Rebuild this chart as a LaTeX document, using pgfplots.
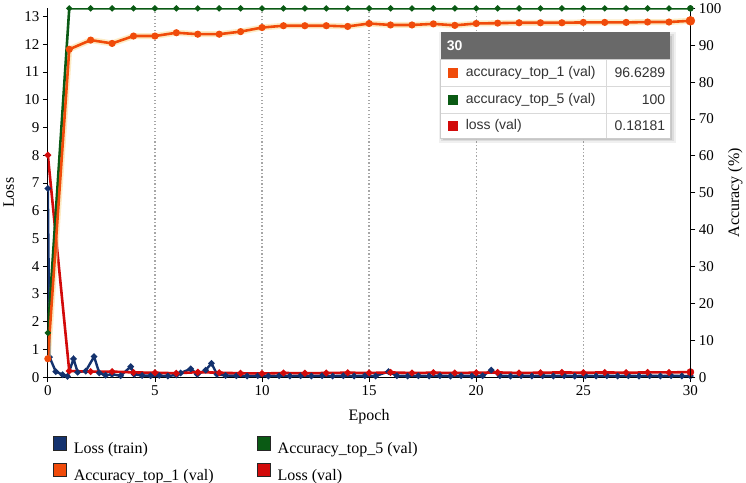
\documentclass[border=0pt]{standalone}
\usepackage{fontspec}
\setmainfont{Liberation Serif}
\newfontfamily\tipfont{Liberation Sans}
\usepackage{pgfplots}
\pgfplotsset{compat=1.18}

\definecolor{navyc}{RGB}{20,50,110}
\definecolor{greenc}{RGB}{10,90,20}
\definecolor{orangec}{RGB}{240,75,10}
\definecolor{redc}{RGB}{210,10,10}
\definecolor{haloc}{RGB}{250,215,140}
\definecolor{headc}{RGB}{105,105,105}

\pgfplotstableread{
x y
0 6.8
0.08 0.72
0.37 0.2
0.69 0.09
0.92 0.03
1.2 0.66
1.39 0.18
1.77 0.22
2.16 0.74
2.4 0.15
2.7 0.07
3.0 0.1
3.4 0.05
3.87 0.38
4.03 0.1
4.4 0.06
4.8 0.05
5.2 0.06
5.6 0.04
6.0 0.08
6.2 0.15
6.67 0.3
6.98 0.1
7.37 0.25
7.64 0.5
7.9 0.1
8.3 0.06
8.8 0.05
9.3 0.04
9.8 0.05
10.3 0.04
10.8 0.05
11.3 0.04
11.8 0.05
12.3 0.04
12.8 0.05
13.3 0.04
13.8 0.05
14.3 0.04
14.8 0.05
15.3 0.04
15.9 0.2
16.3 0.05
16.8 0.04
17.3 0.05
17.8 0.04
18.3 0.05
18.8 0.04
19.3 0.05
19.8 0.04
20.3 0.05
20.7 0.25
21.1 0.05
21.6 0.04
22.1 0.05
22.6 0.04
23.1 0.05
23.6 0.04
24.1 0.05
24.6 0.04
25.1 0.05
25.6 0.04
26.1 0.05
26.6 0.04
27.1 0.05
27.6 0.04
28.1 0.05
28.6 0.04
29.1 0.05
29.6 0.04
30 0.04
}\losstrain

\pgfplotstableread{
x y
0 8.0
1 0.22
2 0.2
3 0.2
4 0.17
5 0.16
6 0.14
7 0.18
8 0.16
9 0.14
10 0.13
11 0.15
12 0.14
13 0.15
14 0.16
15 0.15
16 0.17
17 0.15
18 0.16
19 0.15
20 0.16
21 0.17
22 0.15
23 0.16
24 0.17
25 0.16
26 0.17
27 0.16
28 0.17
29 0.17
30 0.18181
}\lossval

\pgfplotstableread{
x y
0 5
1 88.9
2 91.4
3 90.5
4 92.5
5 92.5
6 93.4
7 93.0
8 93.0
9 93.7
10 94.8
11 95.3
12 95.3
13 95.3
14 95.1
15 95.9
16 95.5
17 95.5
18 95.8
19 95.4
20 95.9
21 96.0
22 96.1
23 96.1
24 96.1
25 96.2
26 96.2
27 96.2
28 96.3
29 96.3
30 96.6289
}\accone

\pgfplotstableread{
x y
0 12
1 100
2 100
3 100
4 100
5 100
6 100
7 100
8 100
9 100
10 100
11 100
12 100
13 100
14 100
15 100
16 100
17 100
18 100
19 100
20 100
21 100
22 100
23 100
24 100
25 100
26 100
27 100
28 100
29 100
30 100
}\accfive

\begin{document}
\begin{tikzpicture}
\pgfplotsset{
  every axis/.append style={
    scale only axis, width=643pt, height=369pt,
    xmin=0, xmax=30,
    tick align=outside, major tick length=5pt,
    tick style={black, line width=0.8pt},
    axis line style={black, line width=0.9pt},
    tick label style={font=\fontsize{15}{18}\selectfont},
    label style={font=\fontsize{16}{19}\selectfont},
    /pgf/number format/assume math mode=true,
  }
}
\begin{axis}[
  name=main,
  ymin=0, ymax=13.29,
  axis x line*=bottom, axis y line*=left,
  xtick={0,5,...,30}, ytick={0,1,...,13},
  xmajorgrids,
  major grid style={gray!70, line width=1.3pt, dash pattern=on 1.3pt off 2.2pt},
  xlabel={Epoch}, ylabel={Loss},
  xlabel style={at={(axis description cs:0.5,-0.108)}, anchor=center},
  ylabel style={at={(axis description cs:-0.061,0.5)}, anchor=center},
]
\addplot[navyc, line width=2.4pt, mark=*, mark size=1.8pt] table {\losstrain};
\addplot[redc, line width=2.6pt, mark=*, mark size=1.8pt] table {\lossval};
\addplot[redc, only marks, mark=*, mark size=3.6pt] coordinates {(30,0.18181)};
\end{axis}

\begin{axis}[
  ymin=0, ymax=100,
  axis x line=none, axis y line*=right,
  ytick={0,10,...,100},
  ylabel={Accuracy (\%)},
  ylabel style={at={(axis description cs:1.070,0.5)}, anchor=center},
  legend columns=2,
  legend cell align=left,
  legend style={at={(axis description cs:0.0073,-0.16)}, anchor=north west,
    draw=none, fill=none, inner sep=0pt, row sep=7pt,
    font=\fontsize{16}{19}\selectfont,
    nodes={inner sep=1pt},
    /tikz/every odd column/.append style={column sep=6pt},
    /tikz/every even column/.append style={column sep=42pt}},
  legend image code/.code={\draw[#1, draw=black!85, line width=0.6pt] (0pt,-1.5pt) rectangle (13.5pt,12pt);},
]
\addplot[haloc, opacity=0.5, line width=6pt, forget plot] table {\accone};
\addplot[greenc, line width=2.6pt, mark=*, mark size=1.5pt, forget plot] table {\accfive};
\addplot[orangec, line width=2.6pt, mark=*, mark size=2.2pt, forget plot] table {\accone};
\addplot[orangec, only marks, mark=*, mark size=4.5pt, forget plot] coordinates {(30,96.6289)};
\addplot[greenc, only marks, mark=*, mark size=3pt, forget plot] coordinates {(30,100)};
\addlegendimage{fill=navyc}\addlegendentry{Loss (train)}
\addlegendimage{fill=greenc}\addlegendentry{Accuracy\_top\_5 (val)}
\addlegendimage{fill=orangec}\addlegendentry{Accuracy\_top\_1 (val)}
\addlegendimage{fill=redc}\addlegendentry{Loss (val)}
\end{axis}

% hover tooltip for epoch 30
\begin{scope}[shift={(main.south west)}, x=1pt, y=1pt]
\fill[black, opacity=0.06] (391,234) rectangle (629,345);
\fill[black, opacity=0.08] (393,236) rectangle (627,343);
\fill[black, opacity=0.10] (395,237) rectangle (625,341);
\fill[white] (393,239) rectangle (623,318);
\fill[headc] (393,318) rectangle (623,345);
\draw[black!15, line width=0.6pt] (393,291) -- (623,291);
\draw[black!15, line width=0.6pt] (393,264) -- (623,264);
\draw[black!15, line width=0.6pt] (559,239) -- (559,318);
\draw[black!20, line width=0.6pt] (393,239) rectangle (623,318);
\node[anchor=west, text=white, font=\tipfont\bfseries\fontsize{14}{16}\selectfont, inner sep=0pt] at (399,331.5) {30};
\fill[orangec] (400,299.5) rectangle (410,309.5);
\fill[greenc] (400,272.5) rectangle (410,282.5);
\fill[redc] (400,246.5) rectangle (410,256.5);
\begin{scope}[every node/.style={font=\tipfont\fontsize{14}{16}\selectfont, text=black!80, inner sep=0pt}]
\node[anchor=west] at (418,304.5) {accuracy\_top\_1 (val)};
\node[anchor=west] at (418,277.5) {accuracy\_top\_5 (val)};
\node[anchor=west] at (418,251.5) {loss (val)};
\node[anchor=east] at (618,304.5) {96.6289};
\node[anchor=east] at (618,277.5) {100};
\node[anchor=east] at (618,251.5) {0.18181};
\end{scope}
\end{scope}
\end{tikzpicture}
\end{document}
